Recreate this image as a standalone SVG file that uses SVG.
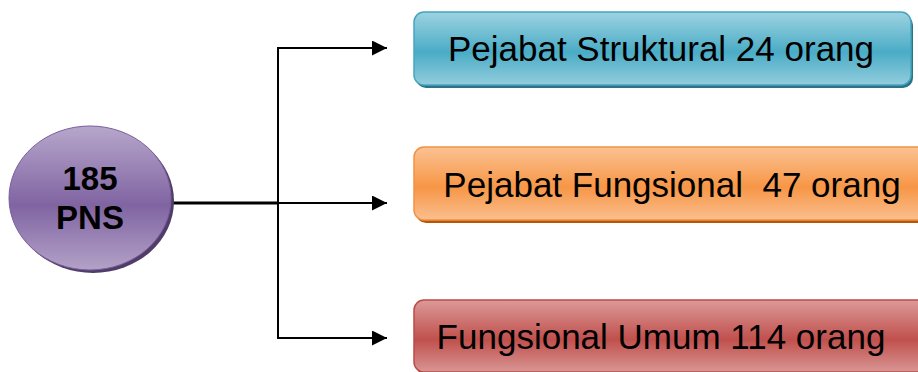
<svg xmlns="http://www.w3.org/2000/svg" width="918" height="372" viewBox="0 0 918 372">
  <defs>
    <linearGradient id="gBlue" x1="0" y1="0" x2="0" y2="1">
      <stop offset="0" stop-color="#9dd2e1"/>
      <stop offset="0.55" stop-color="#4aacc6"/>
      <stop offset="1" stop-color="#93cddd"/>
    </linearGradient>
    <linearGradient id="gOrange" x1="0" y1="0" x2="0" y2="1">
      <stop offset="0" stop-color="#fbc293"/>
      <stop offset="0.55" stop-color="#f79646"/>
      <stop offset="1" stop-color="#fabf8f"/>
    </linearGradient>
    <linearGradient id="gRed" x1="0" y1="0" x2="0" y2="1">
      <stop offset="0" stop-color="#dc9a98"/>
      <stop offset="0.55" stop-color="#c0504d"/>
      <stop offset="1" stop-color="#d99694"/>
    </linearGradient>
    <linearGradient id="gPurple" x1="0" y1="0" x2="0" y2="1">
      <stop offset="0" stop-color="#b7a7cb"/>
      <stop offset="0.55" stop-color="#8064a2"/>
      <stop offset="1" stop-color="#b3a2c7"/>
    </linearGradient>
    <marker id="arrow" markerWidth="15" markerHeight="15" viewBox="0 0 15 15" refX="15" refY="7.5" orient="auto" markerUnits="userSpaceOnUse">
      <path d="M0,0 L15,7.5 L0,15 Z" fill="#000"/>
    </marker>
  </defs>
  <style>
    .lbl { font-family: "Liberation Sans", Arial, sans-serif; font-size: 35px; fill: #000; text-anchor: middle; white-space: pre; }
    .big { font-family: "Liberation Sans", Arial, sans-serif; font-size: 33px; font-weight: bold; fill: #000; text-anchor: middle; }
    .wire { fill: none; stroke: #000; stroke-width: 2; }
  </style>

  <rect width="918" height="372" fill="#fff"/>

  <!-- connectors -->
  <g id="connectors">
    <line x1="172" y1="203" x2="278" y2="203" stroke="#000" stroke-width="3"/>
    <path class="wire" d="M278,203 L387,203" marker-end="url(#arrow)"/>
    <path class="wire" d="M278,48 L278,338"/>
    <path class="wire" d="M277,48 L387,48" marker-end="url(#arrow)"/>
    <path class="wire" d="M277,338 L387,338" marker-end="url(#arrow)"/>
  </g>

  <!-- total -->
  <g id="total">
    <ellipse cx="93" cy="201" rx="81" ry="72" fill="#4f3d68"/>
    <ellipse cx="90" cy="198" rx="81" ry="72" fill="url(#gPurple)" stroke="#7a5d9e" stroke-width="1"/>
    <text class="big" x="90" y="190">185</text>
    <text class="big" x="90" y="229">PNS</text>
  </g>

  <!-- structural -->
  <g id="struktural">
    <rect x="416" y="15" width="497" height="73" rx="10" fill="#2c7387"/>
    <rect x="414" y="12" width="497" height="73" rx="10" fill="url(#gBlue)" stroke="#46a5bf" stroke-width="1.5"/>
    <text class="lbl" x="661" y="61">Pejabat Struktural 24 orang</text>
  </g>

  <!-- functional -->
  <g id="fungsional">
    <rect x="416" y="150" width="520" height="73" rx="10" fill="#b65708"/>
    <rect x="414" y="147" width="520" height="73" rx="10" fill="url(#gOrange)" stroke="#f29143" stroke-width="1.5"/>
    <text class="lbl" x="672" y="197" xml:space="preserve">Pejabat Fungsional  47 orang</text>
  </g>

  <!-- general -->
  <g id="umum">
    <rect x="416" y="303" width="520" height="72" rx="10" fill="#8a2f2d"/>
    <rect x="414" y="300" width="520" height="72" rx="10" fill="url(#gRed)" stroke="#bb4b48" stroke-width="1.5"/>
    <text class="lbl" x="661" y="349">Fungsional Umum 114 orang</text>
  </g>
</svg>
